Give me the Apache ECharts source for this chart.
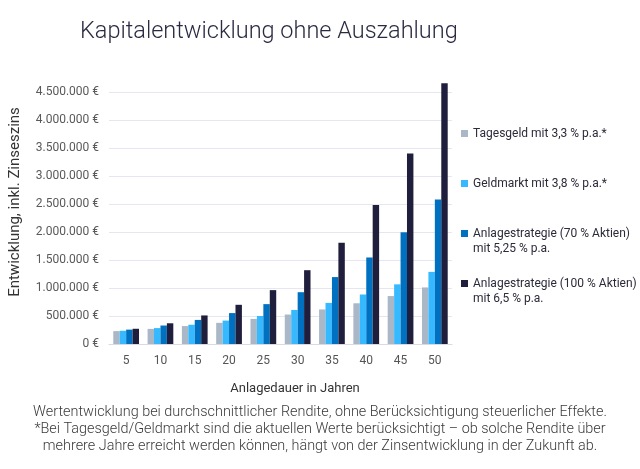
<!DOCTYPE html>
<html><head><meta charset="utf-8">
<script src="https://cdn.jsdelivr.net/npm/echarts@6/dist/echarts.min.js"></script>
<style>html,body{margin:0;padding:0;background:#fff}#c{width:640px;height:469px}</style>
</head><body><div id="c"></div>
<script>
var categories = ['5','10','15','20','25','30','35','40','45','50'];
var seriesNames = [
  'Tagesgeld mit 3,3 % p.a.*',
  'Geldmarkt mit 3,8 % p.a.*',
  'Anlagestrategie (70 % Aktien)\nmit 5,25 % p.a.',
  'Anlagestrategie (100 % Aktien)\nmit 6,5 % p.a.'
];
var tagesgeld = [230000, 270000, 320000, 378000, 448000, 526000, 617000, 727000, 856000, 1010000];
var geldmarkt = [236000, 284000, 344000, 418000, 500000, 608000, 734000, 884000, 1065000, 1288000];
var strategie70 = [257000, 330000, 430000, 552000, 712000, 925000, 1195000, 1545000, 1995000, 2580000];
var strategie100 = [272000, 370000, 510000, 700000, 962000, 1318000, 1808000, 2480000, 3402000, 4655000];
var colors = ['#A9B7C7', '#36B9FF', '#0070C0', '#1F1F3D'];
var footnote = 'Wertentwicklung bei durchschnittlicher Rendite, ohne Berücksichtigung steuerlicher Effekte.\n*Bei Tagesgeld/Geldmarkt sind die aktuellen Werte berücksichtigt – ob solche Rendite über\nmehrere Jahre erreicht werden können, hängt von der Zinsentwicklung in der Zukunft ab.';

function fmt(v){ return String(v).replace(/\B(?=(\d{3})+(?!\d))/g,'.') + ' €'; }
var font = 'Roboto';
var values = [tagesgeld, geldmarkt, strategie70, strategie100];
var series = values.map(function(d,i){
  return {name: seriesNames[i], type:'bar', data:d, barGap:'0%', barCategoryGap:'25%', clip:false,
    itemStyle:{color:colors[i]}, animation:false};
});
function legend(i, top, multi){
  var l = {data:[seriesNames[i]], orient:'vertical', left:461, top:top, padding:0,
    itemWidth:7, itemHeight: multi ? 30 : 7, icon: multi ? 'path://M0,0M0,4h7v7h-7zM0,30' : 'rect',
    textStyle:{fontFamily:font, fontSize:12, color:'#2b2b3a', lineHeight:15}};
  return l;
}
var chart = echarts.init(document.getElementById('c'));
chart.setOption({
  animation:false,
  color: colors,
  title:[{text:'Kapitalentwicklung ohne Auszahlung', left:80, top:20, padding:0,
    textStyle:{fontFamily:font, fontWeight:300, fontSize:23.5, color:'#2a2a42'}},
    {text:footnote, left:'center', top:404, padding:0,
    textStyle:{fontFamily:font, fontWeight:300, fontSize:14.4, lineHeight:17, color:'#3a3a3a'}}],
  legend:[legend(0,126,false), legend(1,176,false), legend(2,226,true), legend(3,276,true)],
  grid:{left:105, right:188, top:92, bottom:125},
  xAxis:{type:'category', data:categories,
    name:'Anlagedauer in Jahren', nameLocation:'middle', nameGap:38,
    nameTextStyle:{fontFamily:font, fontSize:13, color:'#333', padding:[0,0,0,29]},
    axisLine:{lineStyle:{color:'#DADAE6'}}, axisTick:{show:false},
    axisLabel:{fontFamily:font, fontSize:12, color:'#555', margin:11}},
  yAxis:{type:'value', min:0, max:4500000, interval:500000,
    name:'Entwicklung, inkl. Zinseszins', nameLocation:'middle', nameGap:86, nameRotate:90,
    nameTextStyle:{fontFamily:font, fontSize:15, color:'#333', padding:[0,0,0,32]},
    axisLine:{show:false}, axisTick:{show:false},
    splitLine:{lineStyle:{color:'#E6E6F2'}},
    axisLabel:{fontFamily:font, fontSize:12, color:'#595959', margin:10, formatter:fmt}},
  series: series
});
</script></body></html>
